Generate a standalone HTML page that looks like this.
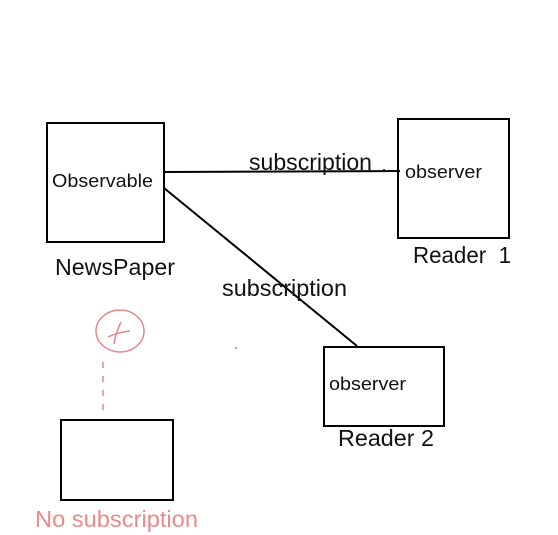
<!DOCTYPE html>
<html><head><style>html,body{margin:0;padding:0;background:#fff;}</style></head>
<body>
<svg width="558" height="535" xmlns="http://www.w3.org/2000/svg" style="display:block;font-family:'Liberation Sans',Arial,sans-serif;">
<rect x="0" y="0" width="558" height="535" fill="#fff"/>
<g fill="none" stroke="#000" stroke-width="2">
<rect x="47" y="123" width="117" height="119"/>
<rect x="398" y="119" width="111" height="119"/>
<rect x="324" y="347" width="120" height="79"/>
<rect x="61" y="420" width="112" height="80"/>
<line x1="164" y1="172" x2="400" y2="171"/>
<line x1="164" y1="188" x2="357" y2="346"/>
</g>
<g fill="none" stroke="#e08a8a" stroke-width="1.5">
<ellipse cx="120" cy="331" rx="24" ry="21"/>
<path d="M108 337 Q118 332 130 331 M121 322 Q116 332 114 344"/>
<line x1="103" y1="362" x2="103" y2="418" stroke-dasharray="6 8"/>
</g>
<circle cx="384" cy="170" r="1" fill="#000"/>
<circle cx="236" cy="348" r="1" fill="#a88"/>
<g fill="#111">
<text x="52" y="187" font-size="18.5" textLength="101" lengthAdjust="spacingAndGlyphs">Observable</text>
<text x="405" y="178" font-size="18.5" textLength="77" lengthAdjust="spacingAndGlyphs">observer</text>
<text x="329" y="390" font-size="18.5" textLength="77" lengthAdjust="spacingAndGlyphs">observer</text>
<text x="249" y="170" font-size="23" textLength="123" lengthAdjust="spacingAndGlyphs">subscription</text>
<text x="222" y="296" font-size="23" textLength="125" lengthAdjust="spacingAndGlyphs">subscription</text>
<text x="55" y="275" font-size="23" textLength="120" lengthAdjust="spacingAndGlyphs">NewsPaper</text>
<text x="413" y="263" font-size="23" textLength="98" lengthAdjust="spacingAndGlyphs" xml:space="preserve">Reader  1</text>
<text x="338" y="446" font-size="23" textLength="96" lengthAdjust="spacingAndGlyphs">Reader 2</text>
</g>
<text x="35" y="527" font-size="23" fill="#e88a8a" textLength="163" lengthAdjust="spacingAndGlyphs">No subscription</text>
</svg>
</body></html>
